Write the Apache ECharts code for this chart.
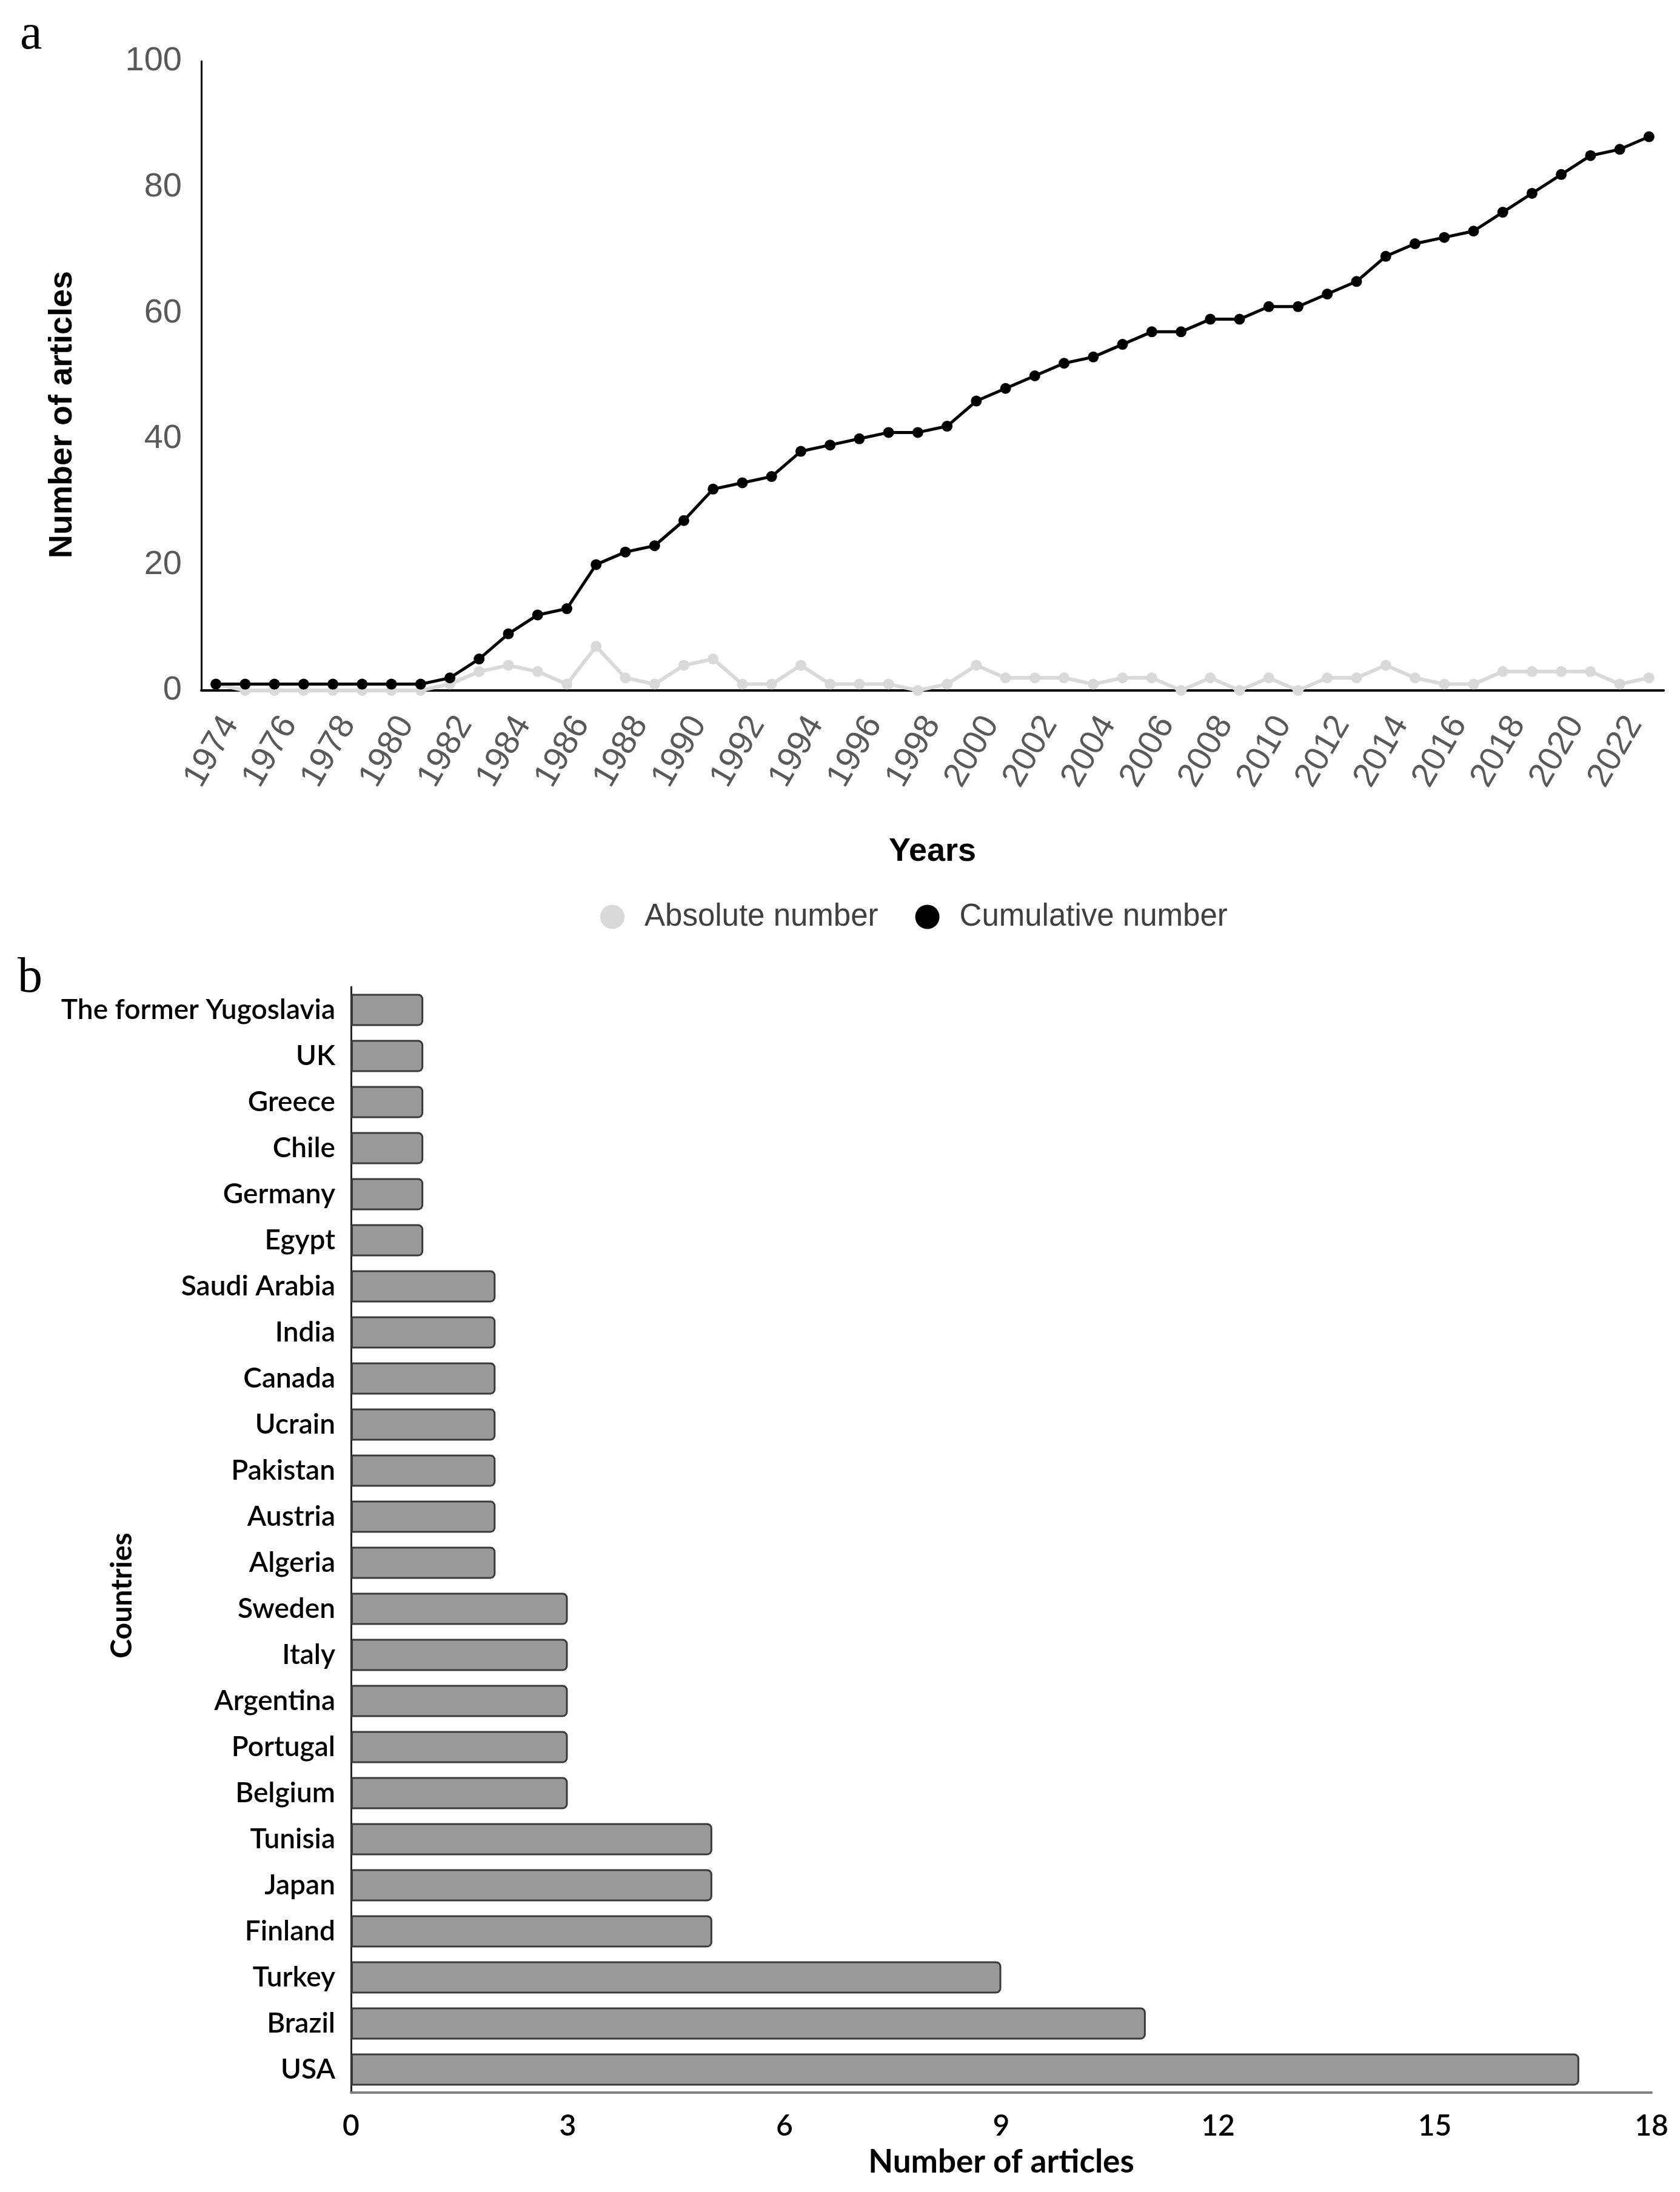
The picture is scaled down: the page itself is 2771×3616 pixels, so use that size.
<!DOCTYPE html>
<html>
<head>
<meta charset="utf-8">
<script src="https://cdn.jsdelivr.net/npm/echarts@6/dist/echarts.min.js"></script>
<style>
html,body{margin:0;padding:0;background:#fff;}
#chart{width:2771px;height:3616px;}
</style>
</head>
<body>
<div id="chart"></div>
<script>
// ---- Panel a data ----
const years = ['1974','1975','1976','1977','1978','1979','1980','1981','1982','1983','1984','1985','1986','1987','1988','1989','1990','1991','1992','1993','1994','1995','1996','1997','1998','1999','2000','2001','2002','2003','2004','2005','2006','2007','2008','2009','2010','2011','2012','2013','2014','2015','2016','2017','2018','2019','2020','2021','2022','2023'];
const absoluteNumber = [1,0,0,0,0,0,0,0,1,3,4,3,1,7,2,1,4,5,1,1,4,1,1,1,0,1,4,2,2,2,1,2,2,0,2,0,2,0,2,2,4,2,1,1,3,3,3,3,1,2];
const cumulativeNumber = [1,1,1,1,1,1,1,1,2,5,9,12,13,20,22,23,27,32,33,34,38,39,40,41,41,42,46,48,50,52,53,55,57,57,59,59,61,61,63,65,69,71,72,73,76,79,82,85,86,88];

// ---- Panel b data ----
const countries = ['The former Yugoslavia','UK','Greece','Chile','Germany','Egypt','Saudi Arabia','India','Canada','Ucrain','Pakistan','Austria','Algeria','Sweden','Italy','Argentina','Portugal','Belgium','Tunisia','Japan','Finland','Turkey','Brazil','USA'];
const articleCounts = [1,1,1,1,1,1,2,2,2,2,2,2,2,3,3,3,3,3,5,5,5,9,11,17];

const topFont = "'Liberation Sans', Arial, sans-serif";
const botFont = "Lato, 'Open Sans', sans-serif";

const chart = echarts.init(document.getElementById('chart'), null, {renderer: 'canvas'});

chart.setOption({
  backgroundColor: '#ffffff',
  animation: false,
  title: [
    {text: 'a', left: 28, top: 12, textStyle: {fontFamily: "'Liberation Serif', serif", fontWeight: 'normal', fontSize: 82, color: '#000'}},
    {text: 'b', left: 24, top: 1568, textStyle: {fontFamily: "'Liberation Serif', serif", fontWeight: 'normal', fontSize: 82, color: '#000'}}
  ],
  legend: {
    data: ['Absolute number', 'Cumulative number'],
    left: 985,
    top: 1482,
    icon: 'circle',
    itemWidth: 40,
    itemHeight: 40,
    itemGap: 61,
    textStyle: {fontFamily: topFont, fontSize: 51, color: '#404040', padding: [0, 0, 0, 28]}
  },
  grid: [
    {left: 332, right: 27, top: 101, bottom: 3616 - 1139, containLabel: false},
    {left: 579, right: 47, top: 1628, bottom: 3616 - 3452, containLabel: false}
  ],
  xAxis: [
    {
      gridIndex: 0,
      type: 'category',
      data: years,
      boundaryGap: true,
      name: 'Years',
      nameLocation: 'middle',
      nameGap: 239,
      nameMoveOverlap: false,
      nameTextStyle: {fontFamily: topFont, fontWeight: 'bold', fontSize: 54, color: '#000'},
      axisLine: {lineStyle: {color: '#000', width: 4}},
      axisTick: {show: false},
      axisLabel: {interval: 1, rotate: 60, margin: 33, verticalAlign: 'top', fontFamily: topFont, fontSize: 56, color: '#595959'},
      splitLine: {show: false}
    },
    {
      gridIndex: 1,
      type: 'value',
      min: 0,
      max: 18,
      interval: 3,
      name: 'Number of articles',
      nameLocation: 'middle',
      nameGap: 88,
      nameMoveOverlap: false,
      nameTextStyle: {fontFamily: botFont, fontWeight: 'bold', fontSize: 53, color: '#000'},
      axisLine: {show: true, lineStyle: {color: '#7f7f7f', width: 4}},
      axisTick: {show: false},
      axisLabel: {margin: 32, fontFamily: botFont, fontWeight: 600, fontSize: 48, color: '#000'},
      splitLine: {show: false}
    }
  ],
  yAxis: [
    {
      gridIndex: 0,
      type: 'value',
      min: 0,
      max: 100,
      interval: 20,
      name: 'Number of articles',
      nameLocation: 'middle',
      nameGap: 202,
      nameRotate: 90,
      nameMoveOverlap: false,
      nameTextStyle: {fontFamily: topFont, fontWeight: 'bold', fontSize: 54, color: '#000', padding: [0, 128, 0, 0]},
      axisLine: {show: true, lineStyle: {color: '#000', width: 3}},
      axisTick: {show: false},
      axisLabel: {margin: 32, fontFamily: topFont, fontSize: 56, color: '#595959'},
      splitLine: {show: false}
    },
    {
      gridIndex: 1,
      type: 'category',
      data: countries,
      inverse: true,
      name: 'Countries',
      nameLocation: 'middle',
      nameGap: 353,
      nameRotate: 90,
      nameMoveOverlap: false,
      nameTextStyle: {fontFamily: botFont, fontWeight: 'bold', fontSize: 48, color: '#000', padding: [0, 184, 0, 0]},
      axisLine: {show: true, lineStyle: {color: '#262626', width: 3}},
      axisTick: {show: false},
      axisLabel: {margin: 26, fontFamily: botFont, fontWeight: 600, fontSize: 46, color: '#000'},
      splitLine: {show: false}
    }
  ],
  series: [
    {
      name: 'Absolute number',
      type: 'line',
      xAxisIndex: 0,
      yAxisIndex: 0,
      data: absoluteNumber,
      symbol: 'circle',
      symbolSize: 18,
      color: '#d9d9d9',
      lineStyle: {color: '#d9d9d9', width: 6},
      itemStyle: {color: '#d9d9d9'}
    },
    {
      name: 'Cumulative number',
      type: 'line',
      xAxisIndex: 0,
      yAxisIndex: 0,
      data: cumulativeNumber,
      symbol: 'circle',
      symbolSize: 18,
      color: '#000000',
      lineStyle: {color: '#000', width: 5},
      itemStyle: {color: '#000'}
    },
    {
      name: 'Articles by country',
      type: 'bar',
      xAxisIndex: 1,
      yAxisIndex: 1,
      data: articleCounts,
      barCategoryGap: '30%',
      itemStyle: {color: '#999999', borderColor: '#3a3a3a', borderWidth: 3, borderRadius: [0, 7, 7, 0]}
    }
  ]
});
</script>
</body>
</html>
